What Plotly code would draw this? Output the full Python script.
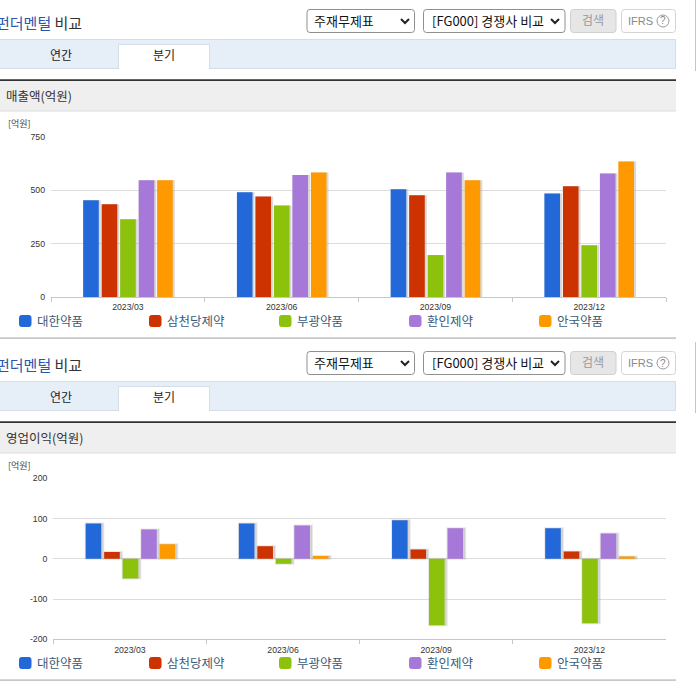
import plotly.graph_objects as go

W = 696
H = 684

quarters = ['2023/03', '2023/06', '2023/09', '2023/12']
companies = ['대한약품', '삼천당제약', '부광약품', '환인제약', '안국약품']
colors = ['#2268d8', '#cc3300', '#8cc20c', '#a678d8', '#ff9900']

sales_daehan = [452, 489, 503, 484]
sales_samchundang = [433, 470, 475, 517]
sales_bukwang = [363, 428, 196, 242]
sales_whanin = [545, 570, 582, 577]
sales_ahnkook = [545, 582, 545, 633]

profit_daehan = [88, 88, 96, 76]
profit_samchundang = [17, 31, 23, 18]
profit_bukwang = [-49, -12, -165, -160]
profit_whanin = [73, 83, 76, 63]
profit_ahnkook = [36, 7, None, 6]

sales = [sales_daehan, sales_samchundang, sales_bukwang, sales_whanin, sales_ahnkook]
profit = [profit_daehan, profit_samchundang, profit_bukwang, profit_whanin, profit_ahnkook]

sales_ticks = [0, 250, 500, 750]
profit_ticks = [-200, -100, 0, 100, 200]
profit_tick_labels = ['-200', '-100', '0', '100', '200']

TEXT_FONT = 'Noto Sans CJK KR'
NUM_FONT = 'Liberation Sans'


def px(x):
    return x / W


def py(y):
    return 1 - y / H


def rrect(x0, y0, x1, y1, r=3):
    # rounded rectangle path in paper coords, pixels measured from the top left
    return (f'M {px(x0 + r)} {py(y0)} L {px(x1 - r)} {py(y0)} '
            f'Q {px(x1)} {py(y0)} {px(x1)} {py(y0 + r)} L {px(x1)} {py(y1 - r)} '
            f'Q {px(x1)} {py(y1)} {px(x1 - r)} {py(y1)} L {px(x0 + r)} {py(y1)} '
            f'Q {px(x0)} {py(y1)} {px(x0)} {py(y1 - r)} L {px(x0)} {py(y0 + r)} '
            f'Q {px(x0)} {py(y0)} {px(x0 + r)} {py(y0)} Z')


shapes = []
annotations = []


def box(x0, y0, x1, y1, fill, line=None, lw=1, layer='below'):
    shapes.append(dict(type='rect', xref='paper', yref='paper', layer=layer,
                       x0=px(x0), x1=px(x1), y0=py(y1), y1=py(y0),
                       fillcolor=fill, line=dict(color=line or fill, width=lw if line else 0)))


def round_box(x0, y0, x1, y1, fill, line, r=3):
    shapes.append(dict(type='path', xref='paper', yref='paper', layer='below',
                       path=rrect(x0, y0, x1, y1, r), fillcolor=fill,
                       line=dict(color=line, width=1)))


def label(x, y, text, size=12, color='#333333', anchor='left', family=TEXT_FONT):
    annotations.append(dict(xref='paper', yref='paper', x=px(x), y=py(y), text=text,
                            showarrow=False, xanchor=anchor, yanchor='middle',
                            align=anchor, borderpad=0,
                            font=dict(size=size, color=color, family=family)))


def chevron(x, y):
    shapes.append(dict(type='path', xref='paper', yref='paper',
                       path=f'M {px(x - 4)} {py(y - 2)} L {px(x)} {py(y + 2)} L {px(x + 4)} {py(y - 2)}',
                       line=dict(color='#222222', width=2)))


def page_block(top, heading):
    # everything around one chart, top = 0 for the first block
    label(83, top + 22.5, '<span style="color:#2b55ab">펀더멘털</span> 비교', size=15,
          color='#333333', anchor='right')

    round_box(307, top + 9.5, 414.5, top + 32.5, '#ffffff', '#8f8f8f')
    label(313, top + 20.5, '주재무제표', size=13, color='#111111')
    chevron(405, top + 21)
    round_box(423.5, top + 9.5, 565, top + 32.5, '#ffffff', '#8f8f8f')
    label(431, top + 20.5, '[FG000] 경쟁사 비교', size=13, color='#111111')
    chevron(555, top + 21)
    round_box(570.5, top + 9.5, 616, top + 32.5, '#e6e6e6', '#d0d0d0')
    label(593, top + 19.5, '검색', size=12, color='#999999', anchor='center')
    round_box(621.5, top + 9.5, 675.5, top + 32.5, '#ffffff', '#d4d4d4')
    label(627, top + 21, 'IFRS', size=11, color='#888888', family=NUM_FONT)
    shapes.append(dict(type='circle', xref='paper', yref='paper',
                       x0=px(657), x1=px(669), y0=py(top + 27), y1=py(top + 15),
                       line=dict(color='#999999', width=1)))
    label(663, top + 21, '?', size=10, color='#888888', anchor='center', family=NUM_FONT)

    box(-1, top + 39.5, 675.5, top + 68.5, '#e6eef8', '#d5dde9')
    box(118.5, top + 44.5, 209.5, top + 69, '#ffffff', '#d5dde9')
    box(119, top + 67.5, 209, top + 70, '#ffffff')
    label(61, top + 55, '연간', size=12, color='#222222', anchor='center')
    label(164, top + 55, '분기', size=12, color='#222222', anchor='center')

    box(0, top + 81, 676, top + 111, '#efefef')
    box(0, top + 110.5, 676, top + 111.5, '#dddddd')
    box(0, top + 79.3, 676, top + 81, '#333333')
    label(5, top + 95.3, heading, size=12.5, color='#333333')
    label(6.5, top + 123, '[억원]', size=9, color='#444444')

    for i, name in enumerate(companies):
        x0 = 19.5 + 130 * i
        round_box(x0, top + 315.5, x0 + 11.5, top + 326.5, colors[i], colors[i], r=2)
        label(x0 + 16.5, top + 320.3, name, size=12.5, color='#3c5a78')

    box(0, top + 337.3, 676, top + 339, '#c8c8c8')
    box(695, top, 696, top + 71, '#c4c4c4')


page_block(0, '매출액(억원)')
page_block(342, '영업이익(억원)')

fig = go.Figure()

PITCH = 18.5
BAR_W = 15.6


def add_bars(values_by_company, xaxis, yaxis, cat_px, group_left, shadow_line):
    # shadows first so that every colored bar stays on top
    for i, values in enumerate(values_by_company):
        fig.add_trace(go.Bar(
            x=quarters, y=values, xaxis=xaxis, yaxis=yaxis, showlegend=False,
            hoverinfo='skip',
            offset=(group_left + i * PITCH) / cat_px,
            width=(BAR_W + 2) / cat_px,
            marker=dict(color='rgba(180,180,180,0.5)',
                        line=dict(color='rgba(180,180,180,0.3)', width=shadow_line)),
        ))
    for i, values in enumerate(values_by_company):
        fig.add_trace(go.Bar(
            x=quarters, y=values, xaxis=xaxis, yaxis=yaxis, name=companies[i],
            showlegend=False,
            offset=(group_left + i * PITCH) / cat_px,
            width=BAR_W / cat_px,
            marker=dict(color=colors[i], line=dict(width=0)),
        ))


add_bars(sales, 'x', 'y', 153.75, -44.7, 0)
add_bars(profit, 'x2', 'y2', 153.2, -44.2, 2)

common_x = dict(type='category', categoryorder='array', categoryarray=quarters,
                tickson='boundaries', ticks='outside', ticklen=4, tickwidth=1,
                tickcolor='#c0c8d8', linecolor='#c0c8d8', linewidth=1, showline=True,
                showgrid=False, zeroline=False, ticklabelstandoff=2,
                tickfont=dict(size=8.7, color='#333333', family=NUM_FONT))
common_y = dict(showgrid=True, gridcolor='#dcdcdc', gridwidth=1, zeroline=False,
                ticks='', showline=False, ticklabelstandoff=5,
                tickfont=dict(size=8.7, color='#333333', family=NUM_FONT))

fig.update_layout(
    width=W, height=H, autosize=False,
    margin=dict(l=0, r=0, t=0, b=0, pad=0, autoexpand=False),
    paper_bgcolor='#ffffff', plot_bgcolor='rgba(0,0,0,0)',
    barmode='overlay',
    showlegend=False,
    shapes=shapes, annotations=annotations,
    xaxis=dict(common_x, domain=[px(51), px(666)], anchor='y'),
    yaxis=dict(common_y, domain=[py(297), py(136.5)], anchor='x', range=[0, 750],
               tickvals=sales_ticks),
    xaxis2=dict(common_x, domain=[px(53.3), px(666)], anchor='y2'),
    yaxis2=dict(common_y, domain=[py(639.3), py(478.3)], anchor='x2', range=[-200, 200],
                tickvals=profit_ticks, ticktext=profit_tick_labels),
)

fig.write_html('out.html', config=dict(displayModeBar=False),
               post_script="document.body.style.margin='0';document.body.style.overflow='hidden';")
